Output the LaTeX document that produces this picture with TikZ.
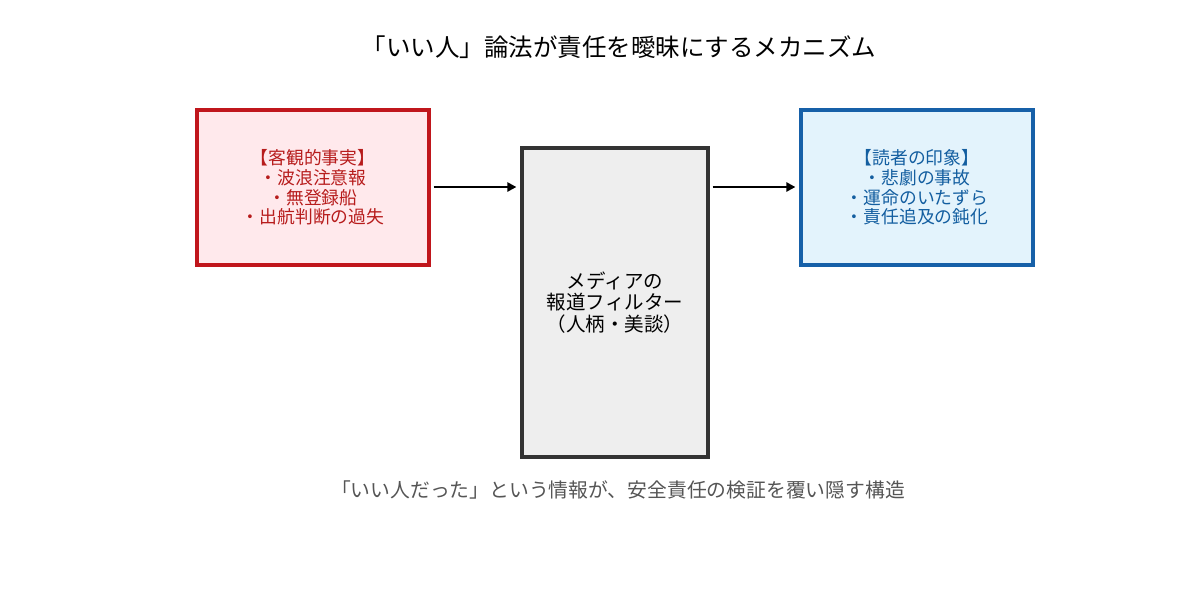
\documentclass[tikz,border=0pt]{standalone}
\usepackage{fontspec}
\setmainfont{Noto Sans CJK JP}
\usetikzlibrary{arrows.meta}
\definecolor{redline}{HTML}{C0161C}
\definecolor{redfill}{HTML}{FFE9EC}
\definecolor{redtext}{HTML}{B71C1C}
\definecolor{blueline}{HTML}{1660A8}
\definecolor{bluefill}{HTML}{E3F3FC}
\definecolor{bluetext}{HTML}{135EA0}
\definecolor{grayline}{HTML}{333333}
\definecolor{grayfill}{HTML}{EEEEEE}
\definecolor{subtext}{HTML}{555555}
\tikzset{
  box/.style={draw, line width=3.2pt, inner sep=0pt, align=center},
  conn/.style={line width=2.8pt, -{Triangle[length=9pt,width=9pt]}},
}
\begin{document}
\begin{tikzpicture}[x=1pt,y=-1pt]
\useasboundingbox[fill=white] (0,0) rectangle (1200,600);
\node[font=\fontsize{24.5}{28}\selectfont] (title) at (619,47) {「いい人」論法が責任を曖昧にするメカニズム};
\node[box, draw=redline, fill=redfill, minimum width=232pt, minimum height=155pt,
  text=redtext, font=\fontsize{17.8}{19.6}\selectfont] (fact) at (313,187.5)
  {【客観的事実】\\・波浪注意報\\・無登録船\\・出航判断の過失};
\node[box, draw=grayline, fill=grayfill, minimum width=186pt, minimum height=309pt,
  font=\fontsize{19.5}{21.5}\selectfont] (filter) at (615,302.5)
  {メディアの\\報道フィルター\\（人柄・美談）};
\node[box, draw=blueline, fill=bluefill, minimum width=232pt, minimum height=155pt,
  text=bluetext, font=\fontsize{17.8}{19.6}\selectfont] (impr) at (917,187.5)
  {【読者の印象】\\・悲劇の事故\\・運命のいたずら\\・責任追及の鈍化};
\draw[conn] ([xshift=3pt]fact.east |- 0,187) -- ([xshift=-4pt]filter.west |- 0,187);
\draw[conn] ([xshift=3pt]filter.east |- 0,187) -- ([xshift=-4pt]impr.west |- 0,187);
\node[text=subtext, font=\fontsize{19.8}{22}\selectfont] (note) at (618,490)
  {「いい人だった」という情報が、安全責任の検証を覆い隠す構造};
\end{tikzpicture}
\end{document}
